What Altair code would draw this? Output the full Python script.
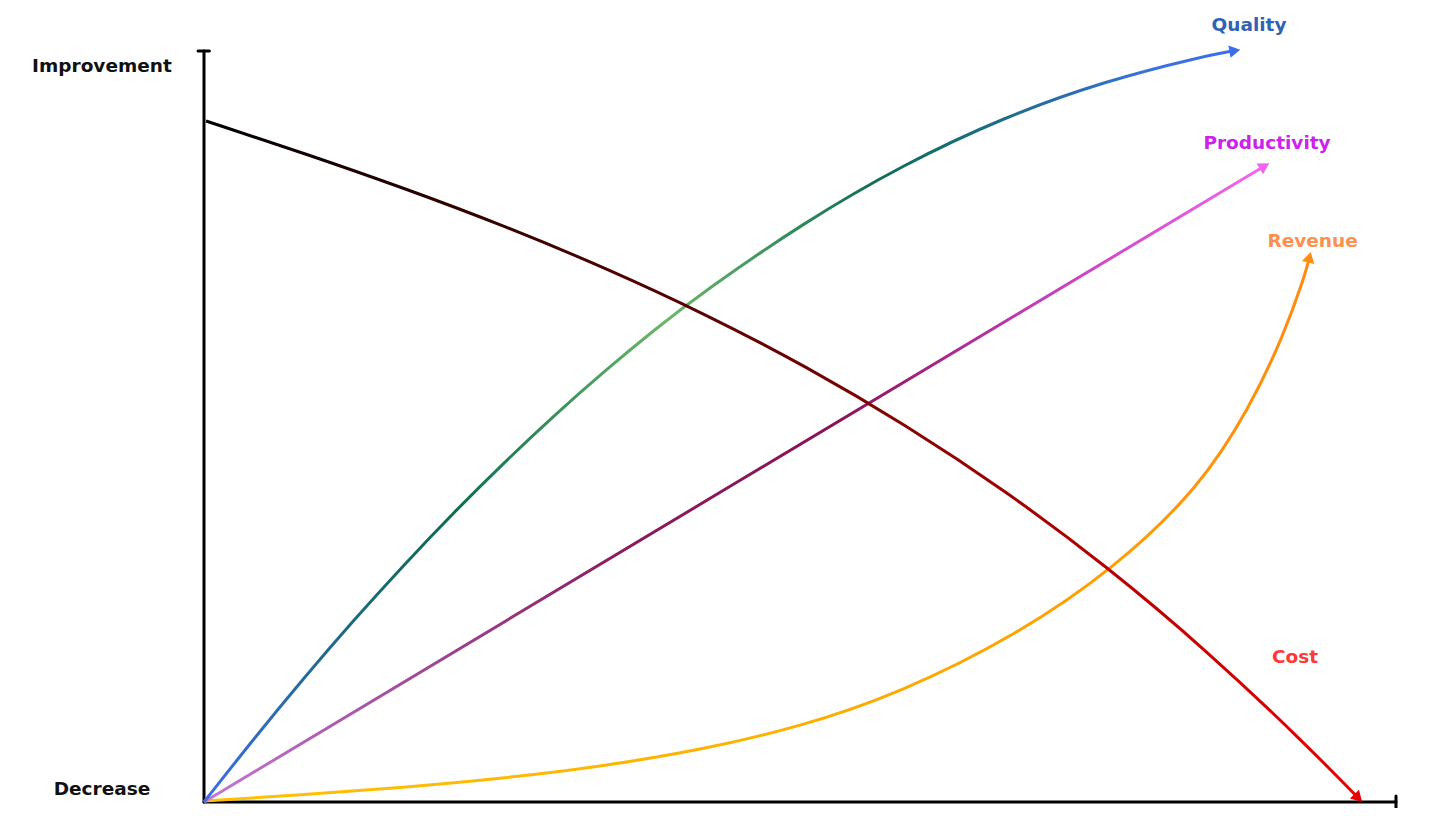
import math
import altair as alt
import pandas as pd

# ---- data (x: 0-100 effort/time, y: 0-100 level) ----
quality_x = [0, 4.19, 8.39, 12.58, 16.78, 20.97, 25.17, 29.36, 33.56, 37.75, 41.95, 50.34,
             58.72, 67.11, 75.50, 83.89, 86.33]
quality_y = [0, 8.45, 16.53, 24.25, 31.60, 38.58, 45.19, 51.44, 57.32, 62.84, 67.99, 77.19,
             84.93, 91.19, 95.98, 99.32, 100.0]

productivity_x = [0, 44.0, 88.84]
productivity_y = [0, 41.9, 84.55]

revenue_x = [0, 8.05, 16.44, 24.83, 33.22, 41.61, 50.00, 58.39, 68.20, 76.43, 83.56, 87.75,
             90.52, 92.37, 92.70]
revenue_y = [0.13, 0.95, 1.90, 3.10, 4.70, 6.90, 10.00, 14.50, 22.24, 31.16, 41.94, 52.60,
             61.92, 70.17, 72.30]

cost_x = [0.17, 8.56, 16.95, 25.34, 33.72, 42.11, 50.50, 58.89, 67.28, 75.67, 84.06, 92.45,
          96.73]
cost_y = [90.68, 86.30, 81.65, 76.63, 71.09, 64.93, 58.02, 50.21, 41.40, 31.46, 20.27, 7.68,
          0.69]

series_names = ["Quality", "Productivity", "Revenue", "Cost"]
label_x = [87.67, 89.18, 93.0, 91.53]
label_y = [103.46, 87.75, 74.70, 19.31]
label_colors = ["#2f63b6", "#cc22ee", "#ff8f4c", "#ff3838"]
arrow_colors = ["#3b6fe8", "#f064ef", "#ff8c14", "#e60000"]

axis_labels = ["Improvement", "Decrease"]
axis_label_x = [-8.56, -8.56]
axis_label_y = [98.0, 1.73]

W, H = 1192, 751
XS = alt.Scale(domain=[0, 100], nice=False, zero=False)
YS = alt.Scale(domain=[0, 100], nice=False, zero=False)
FONT = "DejaVu Sans"
FSIZE = 18.5


def grad(stops):
    return alt.Gradient(
        gradient="linear",
        stops=[alt.GradientStop(offset=o, color=c) for o, c in stops],
        x1=0, x2=1, y1=0, y2=0,
    )


def line(xs, ys, stops, interp="basis"):
    df = pd.DataFrame({"x": xs, "y": ys, "i": range(len(xs))})
    return alt.Chart(df).mark_line(
        strokeWidth=3, interpolate=interp, color=grad(stops), clip=False
    ).encode(
        x=alt.X("x:Q", scale=XS, axis=None),
        y=alt.Y("y:Q", scale=YS, axis=None),
        order="i:Q",
    )


def arrow_angle(xs, ys):
    dx = (xs[-1] - xs[-2]) * W / 100
    dy = -(ys[-1] - ys[-2]) * H / 100
    return (90 + math.degrees(math.atan2(dy, dx))) % 360


quality = line(quality_x, quality_y, [
    (0.0, "#3b6fe8"), (0.12, "#1f6a8c"), (0.24, "#0e6b52"), (0.45, "#6cb86a"),
    (0.65, "#0f6e55"), (0.78, "#1e6c8c"), (0.92, "#3a72dc"), (1.0, "#3b6fe8")])
productivity = line(productivity_x, productivity_y, [
    (0.0, "#c27ad2"), (0.2, "#a04a98"), (0.4, "#8a1a5c"), (0.6, "#8a1258"),
    (0.78, "#c03cb4"), (1.0, "#f565f0")], interp="linear")
revenue = line(revenue_x, revenue_y, [
    (0.0, "#ffc107"), (0.5, "#fbb200"), (0.8, "#ff9f00"), (1.0, "#ff8a10")])
cost = line(cost_x, cost_y, [
    (0.0, "#000000"), (0.3, "#400000"), (0.5, "#6a0000"), (0.7, "#a00000"), (1.0, "#ee0000")])

ends = [(quality_x, quality_y), (productivity_x, productivity_y),
        (revenue_x, revenue_y), (cost_x, cost_y)]
arrows_df = pd.DataFrame({
    "name": series_names,
    "x": [e[0][-1] for e in ends],
    "y": [e[1][-1] for e in ends],
    "angle": [arrow_angle(*e) for e in ends],
    "color": arrow_colors,
})
arrows = alt.Chart(arrows_df).mark_point(
    shape="triangle", filled=True, size=160, opacity=1, clip=False
).encode(
    x=alt.X("x:Q", scale=XS, axis=None),
    y=alt.Y("y:Q", scale=YS, axis=None),
    angle=alt.Angle("angle:Q", scale=None),
    color=alt.Color("color:N", scale=None, legend=None),
)

labels_df = pd.DataFrame({"name": series_names, "x": label_x, "y": label_y, "color": label_colors})
labels = alt.Chart(labels_df).mark_text(
    font=FONT, fontWeight="bold", fontSize=FSIZE, align="center", baseline="middle", clip=False
).encode(
    x=alt.X("x:Q", scale=XS, axis=None),
    y=alt.Y("y:Q", scale=YS, axis=None),
    text="name:N",
    color=alt.Color("color:N", scale=None, legend=None),
)

axis_text_df = pd.DataFrame({"t": axis_labels, "x": axis_label_x, "y": axis_label_y})
axis_text = alt.Chart(axis_text_df).mark_text(
    font=FONT, fontWeight="bold", fontSize=FSIZE, align="center", baseline="middle",
    color="#111111", clip=False
).encode(
    x=alt.X("x:Q", scale=XS, axis=None),
    y=alt.Y("y:Q", scale=YS, axis=None),
    text="t:N",
)

# axis lines with end caps
rules_df = pd.DataFrame({
    "x": [0, 0, -0.5, 100],
    "x2": [0, 100, 0.45, 100],
    "y": [0, 0, 100, -0.8],
    "y2": [100, 0, 100, 0.8],
})
axes = alt.Chart(rules_df).mark_rule(
    color="#000000", strokeWidth=3, strokeCap="round", clip=False
).encode(
    x=alt.X("x:Q", scale=XS, axis=None),
    x2="x2:Q",
    y=alt.Y("y:Q", scale=YS, axis=None),
    y2="y2:Q",
)

chart = alt.layer(
    axes, revenue, productivity, quality, cost, arrows, labels, axis_text
).properties(
    width=W, height=H,
    autosize=alt.AutoSizeParams(type="none"),
    padding={"left": 196, "top": 43, "right": 36, "bottom": 6},
).configure(background="white").configure_view(stroke=None, strokeWidth=0)

chart.save("out.html", embed_options={"renderer": "svg", "actions": False})
